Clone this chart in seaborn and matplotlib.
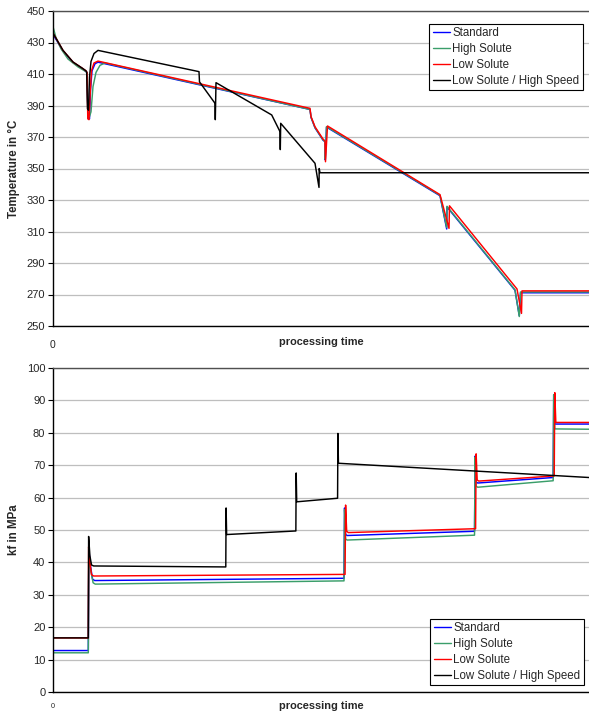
import matplotlib
matplotlib.use("Agg")
import matplotlib.pyplot as plt
import numpy as np
import pandas as pd
import seaborn as sns

# ---- series names and colours ----
alloys = ["Standard", "High Solute", "Low Solute", "Low Solute / High Speed"]
colors = ["#0000ff", "#3a9e6a", "#ff0000", "#000000"]

# ---- temperature during processing (°C) ----
std_temp_t = [0, 4, 10, 20, 29, 33, 34, 35, 36.5, 37.5, 39, 42, 45, 257, 258, 262, 270, 272,
              272.3, 273.5, 387, 393.7, 394, 462, 466.3, 467.5, 536]
std_temp = [435, 431, 424.5, 417.3, 413.5, 411.5, 411, 382, 381.5, 400, 412, 416.5, 417.5,
            387.5, 382.5, 375.8, 368, 367, 355.4, 376.3, 332.7, 311.6, 325.6, 272.7, 256.5,
            271.1, 271.1]

hs_temp_t = [0, 3, 8, 15, 25, 33, 34, 35, 36.5, 38, 40, 43, 47, 52, 257, 258, 262, 270, 272,
             272.3, 273.5, 387, 393.7, 394, 462, 466.3, 467.5, 536]
hs_temp = [440, 433, 426, 419.5, 414.5, 411.5, 411, 384, 383, 386, 402, 411, 415.5, 417,
           387.5, 382.6, 376, 368.2, 367, 356, 376.6, 333, 312.5, 326, 273, 256, 271.6, 271.6]

ls_temp_t = [0, 4, 10, 20, 29, 33, 34, 34.8, 36, 37, 38.5, 41, 45, 257, 258, 262, 270, 272,
             272.5, 274.5, 387, 396, 396.5, 464, 468.5, 469, 536]
ls_temp = [436, 431.6, 425, 417.6, 413.8, 412, 411, 381.5, 381, 395, 412, 417, 418.2, 388.2,
           383, 376.5, 368.7, 367.5, 354.3, 377, 333.4, 312, 326.3, 273.5, 258, 272.3, 272.3]

lshs_temp_t = [0, 4, 10, 20, 29, 33, 33.7, 34.5, 35.5, 36.5, 38, 41, 45, 146, 146.5, 162,
               162.3, 163, 218.7, 227, 227.3, 227.7, 262, 266, 266.2, 267, 536]
lshs_temp = [436, 431.6, 425, 417.6, 413.8, 412, 411, 388, 387, 408, 418, 423, 425, 411.5,
             405, 391.4, 381, 404.5, 384, 373.4, 362, 378.7, 353.3, 338, 350, 347.3, 347.3]

# ---- flow stress kf (MPa) ----
std_kf_t = [0, 33, 33.5, 35, 37, 39, 272, 272.5, 273.5, 275, 394, 394.5, 395.5, 397, 467.5,
            468, 469, 501]
std_kf = [12.8, 12.8, 44, 39, 34.8, 34.4, 35.1, 56.8, 48.6, 48.3, 49.6, 72.8, 64.8, 64.5,
          66.2, 91.6, 82.7, 82.7]

hs_kf_t = [0, 33, 33.5, 35, 37.5, 39.5, 272, 272.5, 273.5, 275, 394, 394.5, 395.5, 397,
           467.5, 468, 469, 501]
hs_kf = [12.1, 12.1, 43.5, 38, 33.7, 33.3, 34.3, 56.3, 47.2, 46.9, 48.4, 72.5, 63.5, 63.2,
         65.2, 91.8, 81.2, 81.1]

ls_kf_t = [0, 33, 33.3, 34.5, 36, 38, 273, 273.5, 274.5, 276, 395, 395.5, 396.5, 398, 468.5,
           469, 470, 501]
ls_kf = [16.7, 16.7, 44.8, 40, 36.2, 35.8, 36.3, 57.7, 49.6, 49.2, 50.4, 73.5, 65.4, 65.1,
         66.7, 92.4, 83.2, 83.2]

lshs_kf_t = [0, 33, 33.3, 34.5, 36, 38, 161.5, 161.8, 162.3, 227, 227.3, 227.8, 266, 266.3,
             266.8, 501]
lshs_kf = [16.7, 16.7, 48, 42, 39.2, 38.9, 38.6, 56.8, 48.6, 49.7, 67.6, 58.7, 59.8, 79.8,
           70.6, 66.2]

temp_ticks = list(range(250, 451, 20))
kf_ticks = list(range(0, 101, 10))


def long_frame(pairs):
    frames = []
    for name, (t, v) in zip(alloys, pairs):
        frames.append(pd.DataFrame({"time": t, "value": v, "alloy": name}))
    return pd.concat(frames, ignore_index=True)


temp_df = long_frame([(std_temp_t, std_temp), (hs_temp_t, hs_temp),
                      (ls_temp_t, ls_temp), (lshs_temp_t, lshs_temp)])
kf_df = long_frame([(std_kf_t, std_kf), (hs_kf_t, hs_kf),
                    (ls_kf_t, ls_kf), (lshs_kf_t, lshs_kf)])

sns.set_style("white")
plt.rcParams["font.family"] = ["Liberation Sans", "DejaVu Sans"]

fig = plt.figure(figsize=(5.89, 7.15), dpi=100)
W, H = 589, 715
ax1 = fig.add_axes([53 / W, 1 - 326 / H, 536 / W, 315 / H])
ax2 = fig.add_axes([53 / W, 1 - 692 / H, 536 / W, 324 / H])


def draw(ax, df, xmax, ylim, yticks, ylabel, x0_size, x0_pad, xlab_y, legend_kw):
    sns.lineplot(data=df, x="time", y="value", hue="alloy", hue_order=alloys,
                 palette=colors, estimator=None, sort=False, linewidth=1.05, ax=ax)
    old = ax.get_legend()
    handles = old.legend_handles
    labels = [t.get_text() for t in old.get_texts()]
    old.remove()
    for h in handles:
        h.set_linewidth(1.0)
    leg = ax.legend(handles, labels, fontsize=8.3, frameon=True, fancybox=False,
                    edgecolor="black", framealpha=1, borderpad=0.3, labelspacing=0.33,
                    handlelength=1.5, handletextpad=0.2, borderaxespad=0, **legend_kw)
    leg.get_frame().set_linewidth(0.8)

    ax.set_xlim(0, xmax)
    ax.set_ylim(*ylim)
    ax.set_yticks(yticks)
    ax.set_xticks([0])
    ax.set_xticklabels(["0"])
    ax.tick_params(axis="y", direction="out", length=3.5, width=0.8, pad=2,
                   labelsize=8, left=True, color="black")
    ax.tick_params(axis="x", length=0, pad=x0_pad, labelsize=x0_size)
    ax.yaxis.grid(True, color="#bebebe", linewidth=0.9)
    ax.xaxis.grid(False)
    ax.set_axisbelow(True)
    for side in ("left", "bottom"):
        ax.spines[side].set_color("black")
        ax.spines[side].set_linewidth(1.0)
    ax.spines["top"].set_color("#505050")
    ax.spines["top"].set_linewidth(1.0)
    ax.spines["right"].set_visible(False)

    ax.set_xlabel("processing time", fontsize=7.9, fontweight="bold")
    ax.xaxis.set_label_coords(0.5, xlab_y)
    ax.set_ylabel(ylabel, fontsize=8.3, fontweight="bold")
    ax.yaxis.set_label_coords(-0.062, 0.5)


draw(ax1, temp_df, 536, (250, 450), temp_ticks, "Temperature in °C", 7.5, 10, -0.035,
     dict(loc="upper right", bbox_to_anchor=(0.9888, 0.9587)))
draw(ax2, kf_df, 501, (0, 100), kf_ticks, "kf in MPa", 5.2, 8, -0.028,
     dict(loc="lower right", bbox_to_anchor=(0.9907, 0.0216)))

fig.savefig("out.png", dpi=100)
